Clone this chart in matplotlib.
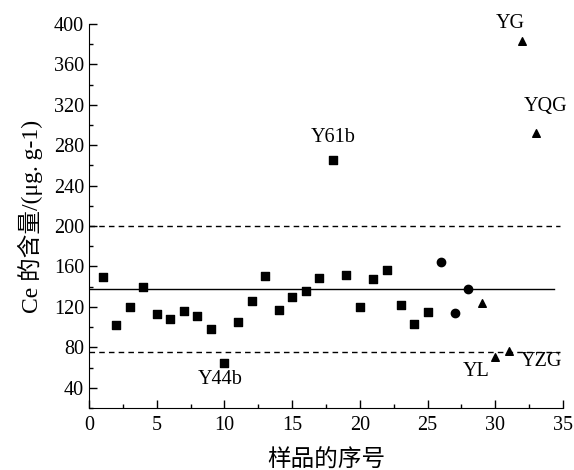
import matplotlib
matplotlib.use("Agg")
import matplotlib.pyplot as plt
from matplotlib.ticker import MultipleLocator

plt.rcParams['font.family'] = ['Liberation Serif', 'Noto Sans CJK SC', 'DejaVu Sans']

# data
sq_x = list(range(1, 26))
sq_y = [150, 102, 120, 140, 113, 108, 116, 111, 98, 64, 105, 126, 151, 117, 130,
        136, 149, 265, 152, 120, 148, 157, 122, 103, 115]
ci_x = [26, 27, 28]
ci_y = [164, 114, 138]
tr_x = [29, 30, 31, 32, 33]
tr_y = [124, 70, 76, 383, 292]

mean_line = 138
upper_line = 200
lower_line = 75

labels = ["Y61b", "Y44b", "YG", "YQG", "YL", "YZG"]
label_pos = [(18, 288), (9.7, 48), (31.1, 400), (33.7, 318), (28.6, 56), (33.4, 66)]

fig = plt.figure(figsize=(5.74, 4.70), dpi=100)
ax = fig.add_axes([0.155, 0.132, 0.826, 0.817])

ax.plot([0, 34.3], [mean_line, mean_line], color='black', lw=1.0)
ax.plot([0, 34.8], [upper_line, upper_line], color='black', lw=1.0, ls=(0, (4, 3)))
ax.plot([0, 34.8], [lower_line, lower_line], color='black', lw=1.0, ls=(0, (4, 3)))

ax.scatter(sq_x, sq_y, marker='s', s=30, color='black', zorder=3)
ax.scatter(ci_x, ci_y, marker='o', s=36, color='black', zorder=3)
ax.scatter(tr_x, tr_y, marker='^', s=30, color='black', zorder=3)

for t, (x, y) in zip(labels, label_pos):
    ax.text(x, y, t, ha='center', va='center', fontsize=14.5)

ax.set_xlim(0, 35)
ax.set_ylim(20, 400)
ax.xaxis.set_major_locator(MultipleLocator(5))
ax.xaxis.set_minor_locator(MultipleLocator(2.5))
ax.set_yticks(range(40, 401, 40))
ax.yaxis.set_minor_locator(MultipleLocator(20))
ax.tick_params(which='both', direction='in', labelsize=14.5, width=1.0)
ax.tick_params(which='major', length=6)
ax.tick_params(which='minor', length=3)
ax.tick_params(axis='x', pad=6)
ax.spines['top'].set_visible(False)
ax.spines['right'].set_visible(False)

ax.set_xlabel('样品的序号', fontsize=17, labelpad=10)
ax.set_ylabel('Ce 的含量/(μg. g-1)', fontsize=17, labelpad=8)

fig.savefig('out.png', dpi=100)
